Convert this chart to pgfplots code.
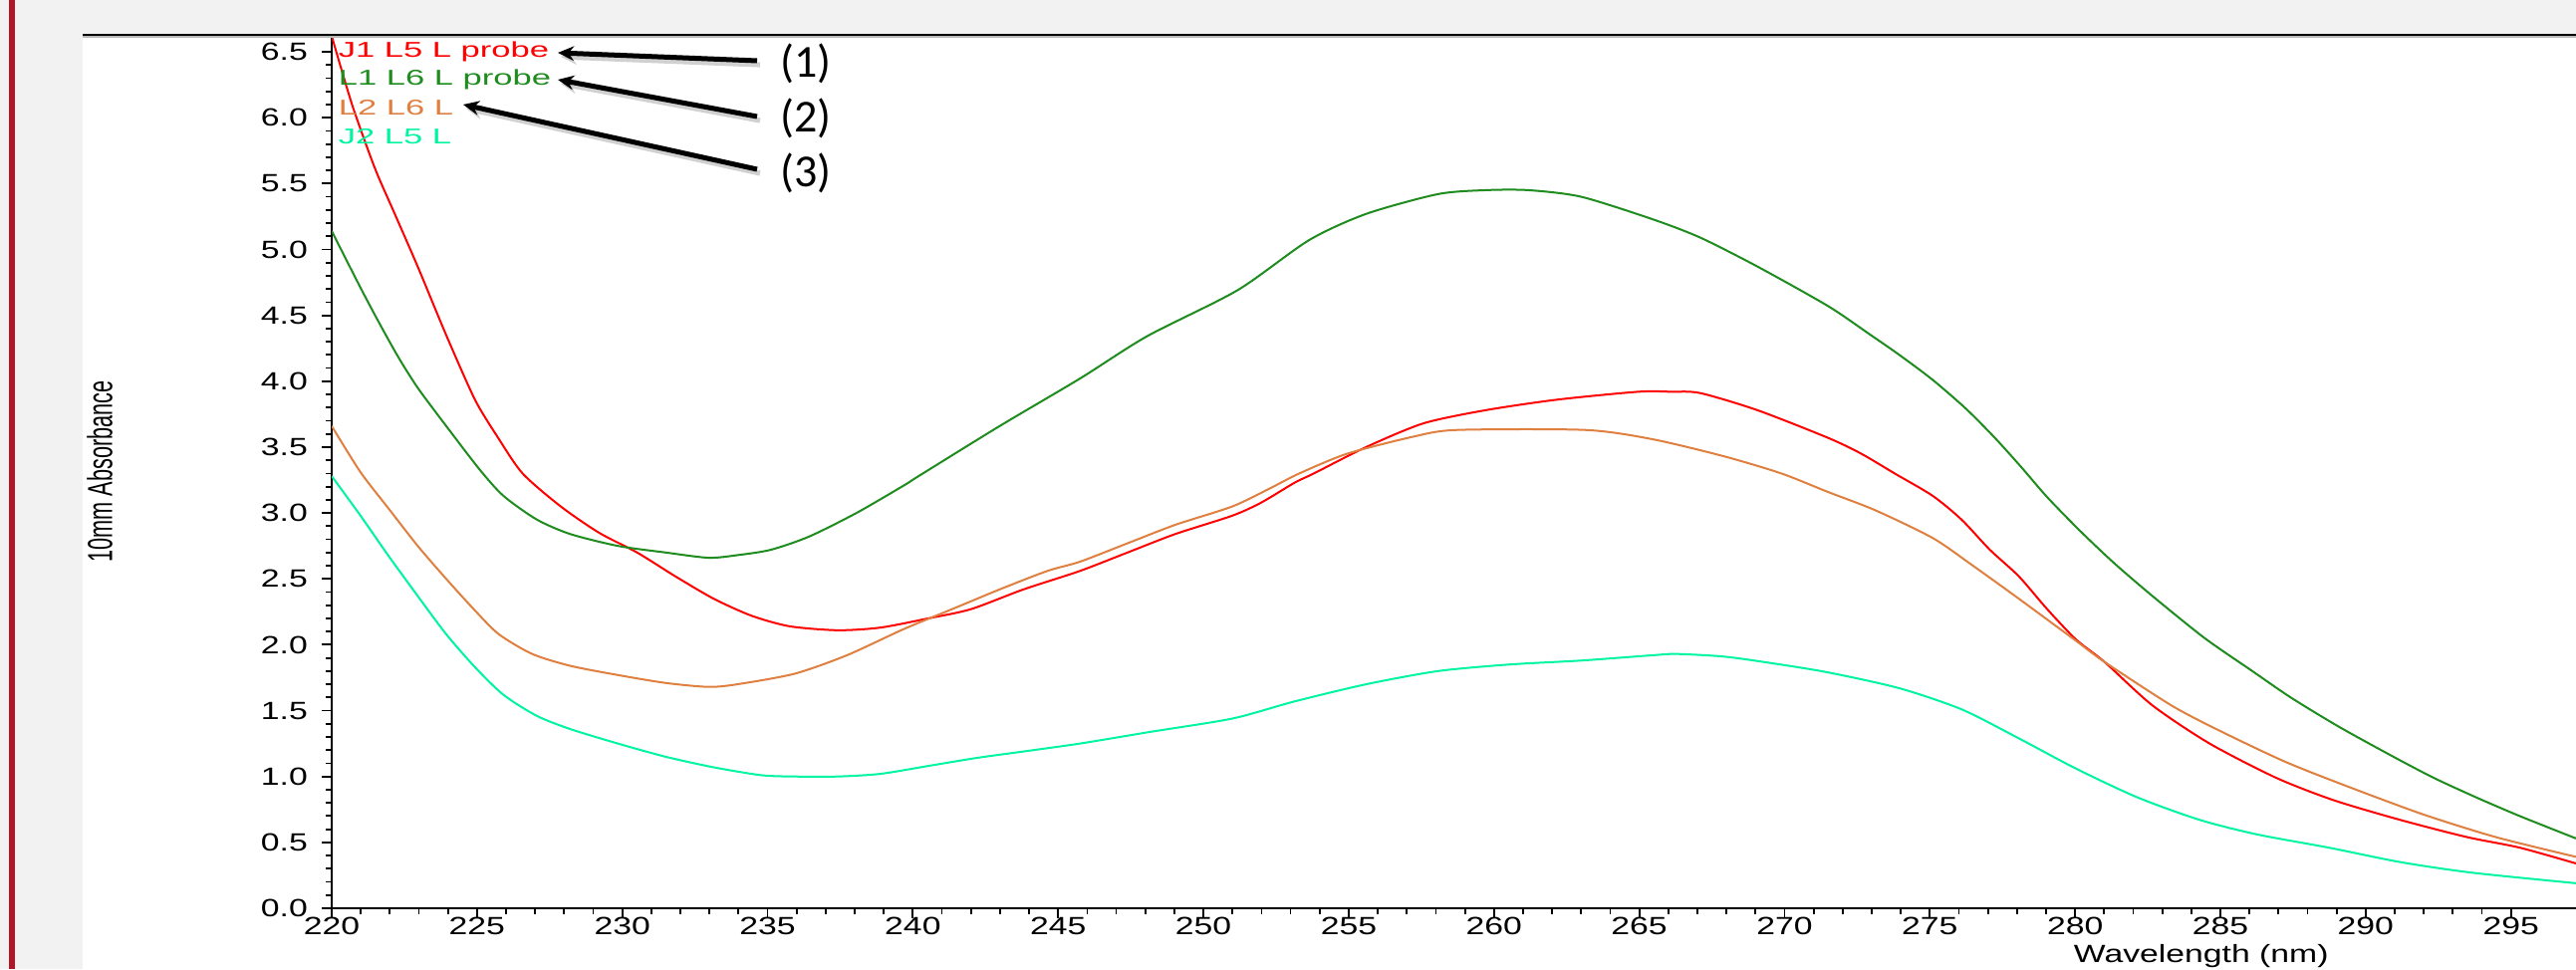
\documentclass[border=0pt]{standalone}
\usepackage{pgfplots}
\pgfplotsset{compat=1.18}
\usepackage{pgfplotstable}
\usepackage{fontspec}
\usetikzlibrary{arrows.meta}
\setmainfont{Liberation Sans}
\newfontfamily\tickfont[FakeStretch=1.35]{Liberation Sans}
\newfontfamily\legfont[FakeStretch=1.6]{Liberation Sans}
\newfontfamily\ylabfont[FakeStretch=0.62]{Liberation Sans}
\newfontfamily\annfont{Carlito}
\definecolor{cred}{RGB}{255,0,0}
\definecolor{cgreen}{RGB}{30,140,30}
\definecolor{corange}{RGB}{224,128,64}
\definecolor{ccyan}{RGB}{0,245,160}
\definecolor{bggray}{RGB}{242,242,242}
\definecolor{barred}{RGB}{180,20,40}

% J1 L5 L probe
\pgfplotstableread{
x y
220.00 6.62
220.70 6.10
221.48 5.62
222.13 5.29
222.96 4.87
223.94 4.35
224.93 3.86
225.70 3.58
226.57 3.30
227.88 3.05
229.20 2.85
230.51 2.70
231.82 2.52
233.14 2.35
234.45 2.22
235.76 2.14
237.41 2.11
238.88 2.13
240.53 2.20
242.00 2.27
243.81 2.42
245.75 2.56
247.39 2.70
249.03 2.84
251.00 2.98
252.00 3.08
253.14 3.23
253.80 3.30
255.60 3.50
257.57 3.68
259.71 3.78
262.17 3.86
264.96 3.92
266.10 3.92
267.10 3.91
269.07 3.78
271.50 3.57
272.64 3.45
273.79 3.30
275.10 3.13
276.09 2.95
277.07 2.72
278.06 2.52
279.04 2.27
280.03 2.04
281.01 1.87
282.66 1.54
284.63 1.25
286.92 0.99
288.90 0.82
291.20 0.67
293.49 0.54
295.30 0.46
297.24 0.34
}\tabred

% L1 L6 L probe
\pgfplotstableread{
x y
220.00 5.14
220.99 4.71
221.64 4.44
222.30 4.18
222.96 3.95
223.94 3.66
225.09 3.33
225.91 3.13
227.06 2.95
228.21 2.84
229.85 2.75
231.49 2.70
232.97 2.66
233.96 2.68
235.10 2.72
236.42 2.82
238.06 3.00
239.70 3.21
240.20 3.28
242.99 3.66
245.75 4.02
248.05 4.34
251.17 4.69
253.63 5.07
255.60 5.27
258.07 5.42
259.71 5.45
261.19 5.45
263.00 5.40
265.45 5.23
267.10 5.09
269.07 4.87
271.50 4.57
272.97 4.35
273.95 4.20
275.10 4.01
276.25 3.79
277.24 3.57
278.14 3.35
279.04 3.12
280.19 2.86
281.34 2.62
282.66 2.37
284.46 2.05
286.10 1.80
287.42 1.60
289.06 1.38
290.87 1.16
292.34 0.99
293.82 0.84
295.30 0.70
297.24 0.53
}\tabgreen

% L2 L6 L
\pgfplotstableread{
x y
220.00 3.66
220.99 3.31
221.97 3.03
222.96 2.75
223.94 2.50
224.93 2.26
225.75 2.08
226.90 1.93
228.21 1.84
229.85 1.77
231.49 1.71
232.97 1.68
233.96 1.70
235.93 1.78
237.73 1.92
239.70 2.12
241.35 2.27
242.99 2.42
244.63 2.56
245.75 2.63
247.39 2.77
249.03 2.91
251.00 3.05
252.32 3.19
253.30 3.30
254.95 3.45
257.24 3.58
258.72 3.63
263.15 3.63
265.45 3.56
267.92 3.43
269.89 3.30
271.49 3.16
273.13 3.02
275.10 2.81
276.42 2.61
278.06 2.35
280.03 2.03
281.01 1.87
283.31 1.54
284.95 1.35
287.25 1.11
289.55 0.91
292.01 0.71
294.48 0.54
297.24 0.39
}\taborange

% J2 L5 L
\pgfplotstableread{
x y
220.00 3.28
220.99 2.98
221.97 2.67
222.96 2.37
223.94 2.08
224.93 1.83
225.91 1.62
227.06 1.46
228.21 1.36
229.85 1.25
231.49 1.15
233.14 1.07
234.78 1.01
235.93 1.00
237.41 1.00
238.88 1.02
240.53 1.08
242.17 1.14
243.81 1.19
245.75 1.25
248.21 1.34
251.00 1.44
253.14 1.57
255.60 1.70
258.07 1.80
260.53 1.85
263.00 1.88
265.45 1.92
266.27 1.93
267.92 1.91
269.56 1.86
271.50 1.79
273.95 1.67
276.09 1.51
278.06 1.29
280.03 1.06
282.16 0.84
284.30 0.67
286.27 0.56
288.73 0.46
291.20 0.35
293.66 0.27
297.24 0.19
}\tabcyan

\begin{document}
\begin{tikzpicture}
\useasboundingbox (0,0) rectangle (646.5pt,243.25pt);
\clip (0,0) rectangle (646.5pt,243.25pt);
\begin{scope}[x=0.25pt,y=-0.25pt,shift={(0pt,243.25pt)}]
\fill[bggray] (0,0) rectangle (2586,973);
\fill[white] (83,35) rectangle (2586,973);
\fill[barred] (9,0) rectangle (15,973);
\end{scope}

\begin{axis}[
  at={(83.25pt,15.25pt)}, anchor=south west,
  scale only axis, width=563.25pt, height=219.25pt,
  xmin=220, xmax=297.24, ymin=0, ymax=6.629,
  axis x line*=bottom, axis y line*=left,
  axis line style={black, line width=0.6pt},
  xtick={220,225,...,295},
  ytick={0,0.5,...,6.5},
  minor x tick num=4, minor y tick num=4,
  tick align=outside,
  major tick length=2.5pt, minor tick length=1.4pt,
  tick style={black, line width=0.45pt},
  xticklabel style={font={\tickfont\fontsize{6.25}{7}\selectfont}, text=black, yshift=3.8pt,
    /pgf/number format/.cd, fixed, precision=0, 1000 sep={}, assume math mode=true},
  yticklabel style={font={\tickfont\fontsize{6.25}{7}\selectfont}, text=black,
    /pgf/number format/.cd, fixed, fixed zerofill, precision=1, assume math mode=true},
  xlabel={Wavelength (nm)},
  xlabel style={font={\tickfont\fontsize{6.25}{7}\selectfont}, at={(rel axis cs:0.833,0)}, anchor=north, inner sep=0pt, yshift=-8.9pt},
  ylabel={10mm Absorbance},
  ylabel style={font={\ylabfont\fontsize{8.75}{10}\selectfont}, at={(rel axis cs:-0.1034,0.5)}, anchor=center},
  clip=true,
]
\addplot[cred, line width=0.5pt, smooth, tension=0.45] table[x=x,y=y]{\tabred};
\addplot[cgreen, line width=0.5pt, smooth, tension=0.45] table[x=x,y=y]{\tabgreen};
\addplot[corange, line width=0.5pt, smooth, tension=0.45] table[x=x,y=y]{\taborange};
\addplot[ccyan, line width=0.5pt, smooth, tension=0.45] table[x=x,y=y]{\tabcyan};
\end{axis}

\begin{scope}[x=0.25pt,y=-0.25pt,shift={(0pt,243.25pt)}]
\draw[gray!55, line width=0.5pt] (83,37.5) -- (2586,37.5);
\draw[black, line width=0.65pt] (83,35) -- (2586,35);
% legend text
\node[anchor=west, inner sep=0pt, text=cred, font={\legfont\fontsize{5.4}{6}\selectfont}] at (339,52) {J1 L5 L probe};
\node[anchor=west, inner sep=0pt, text=cgreen, font={\legfont\fontsize{5.4}{6}\selectfont}] at (339,80) {L1 L6 L probe};
\node[anchor=west, inner sep=0pt, text=corange, font={\legfont\fontsize{5.4}{6}\selectfont}] at (339,108) {L2 L6 L};
\node[anchor=west, inner sep=0pt, text=ccyan, font={\legfont\fontsize{5.4}{6}\selectfont}] at (339,137) {J2 L5 L};
% arrows with shadow
\begin{scope}[gray!60, opacity=0.6, line width=1.3pt]
\draw[-{Stealth[length=4pt,width=3.6pt]}] (763,65) -- (563,57);
\draw[-{Stealth[length=4pt,width=3.6pt]}] (763,121) -- (563,84);
\draw[-{Stealth[length=4pt,width=3.6pt]}] (763,174) -- (468,109);
\end{scope}
\begin{scope}[black, line width=1.25pt]
\draw[-{Stealth[length=4pt,width=3.6pt]}] (760,61) -- (560,53);
\draw[-{Stealth[length=4pt,width=3.6pt]}] (760,117) -- (560,80);
\draw[-{Stealth[length=4pt,width=3.6pt]}] (760,170) -- (465,105);
\end{scope}
\node[font={\annfont\fontsize{11.5}{13}\selectfont}] at (809,64) {(1)};
\node[font={\annfont\fontsize{11.5}{13}\selectfont}] at (809,119) {(2)};
\node[font={\annfont\fontsize{11.5}{13}\selectfont}] at (809,174) {(3)};
\end{scope}
\end{tikzpicture}
\end{document}
